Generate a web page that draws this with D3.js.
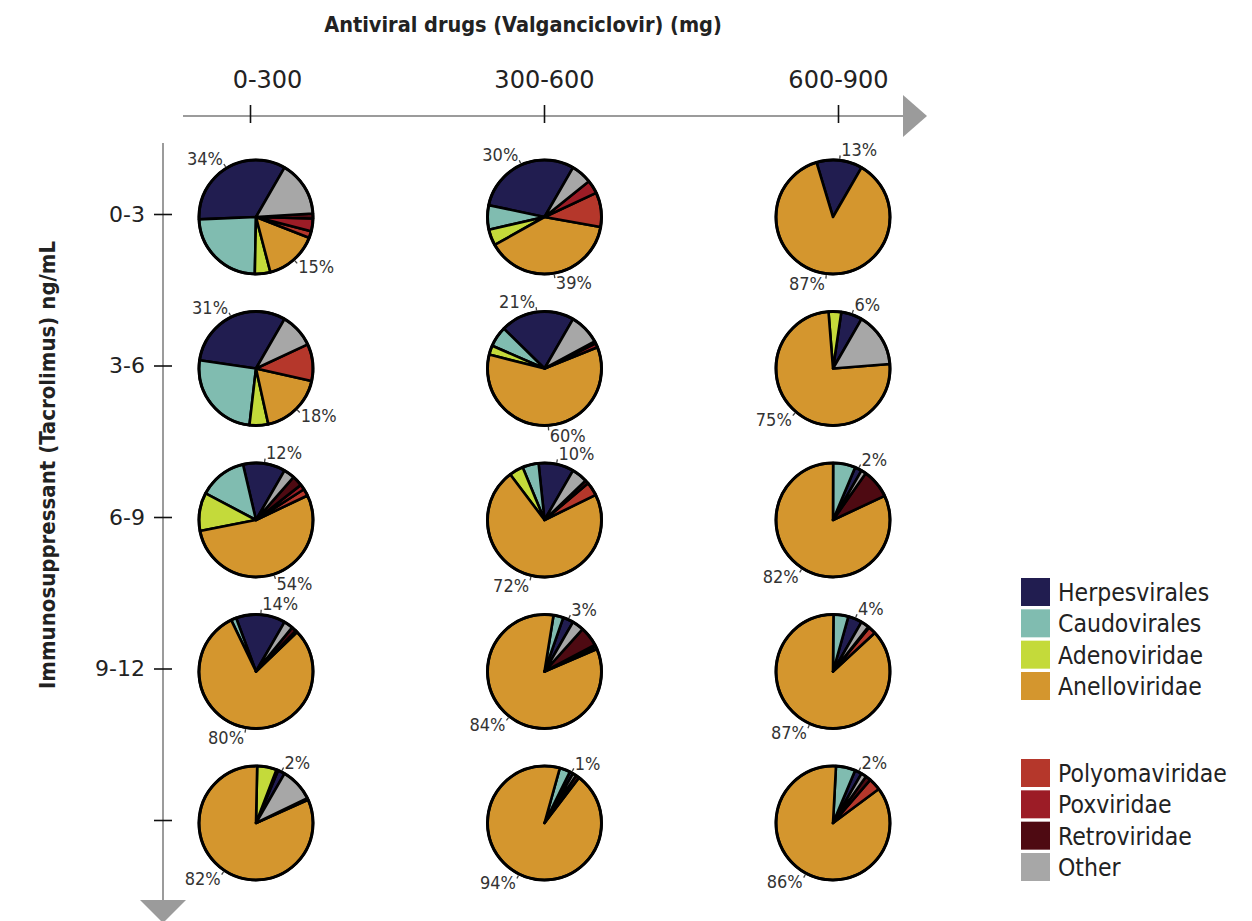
<!DOCTYPE html>
<html>
<head>
<meta charset="utf-8">
<script src="https://cdn.jsdelivr.net/npm/d3@7"></script>
<style>
  html, body { margin: 0; padding: 0; background: #fff; }
  svg { display: block; }
  .cond { font-family: "DejaVu Sans Condensed", "Liberation Sans Narrow", "Roboto", sans-serif; }
</style>
</head>
<body>
<svg id="chart" width="1252" height="921"></svg>
<script>
// Dose bands (columns) and tacrolimus levels (rows)
const doseBands = ["0-300", "300-600", "600-900"];
const levelBands = ["0-3", "3-6", "6-9", "9-12", ""];

// Virus families, in slice order (counter-clockwise) and legend order
const families = ["Herpesvirales", "Caudovirales", "Adenoviridae", "Anelloviridae",
                  "Polyomaviridae", "Poxviridae", "Retroviridae", "Other"];
const familyColors = ["#211d50", "#80bcb0", "#c4da3a", "#d4962e",
                      "#b5372b", "#9c1c26", "#4e0a12", "#a7a7a7"];

// Relative abundance (%) for each pie, row by row (level), left to right (dose)
const herpesvirales  = [34, 30, 13,  31, 21, 6,    12, 10, 2,    14, 3, 4,     2, 1, 2];
const caudovirales   = [24, 6.9, 0,  25.5, 5.8, 0, 13.6, 4.6, 6.3, 1.5, 2.8, 4.2, 0.5, 3, 5.5];
const adenoviridae   = [4.4, 4.6, 0, 5.3, 2.6, 3.6, 10.8, 4, 0,    0, 0, 0,      5.5, 0, 0];
const anelloviridae  = [15, 39, 87,  18, 60, 75,   54, 72, 82,   80, 84, 87,   82, 94, 86];
const polyomaviridae = [1.9, 9.8, 0, 10.5, 0, 0,   2, 3.9, 0,    0, 0.8, 2.2,  0, 0, 3.5];
const poxviridae     = [3.6, 3.8, 0, 0, 1.2, 0,    1.5, 0, 0,    0.5, 0.5, 0,  0, 0, 0];
const retroviridae   = [1.4, 0, 0,   0, 0.6, 0,    3, 1, 8.3,    1.4, 5.6, 0.3, 0.5, 1, 1.5];
const other          = [15.7, 5.9, 0, 9.7, 8.8, 15.4, 3.1, 4.5, 1.4, 2.6, 3.3, 2.3, 9.5, 1, 1.5];

const seriesByFamily = [herpesvirales, caudovirales, adenoviridae, anelloviridae,
                        polyomaviridae, poxviridae, retroviridae, other];
// Families whose share is printed next to the pie
const labelledFamilies = ["Herpesvirales", "Anelloviridae"];

const xTitle = "Antiviral drugs (Valganciclovir) (mg)";
const yTitle = "Immunosuppressant (Tacrolimus) ng/mL";

const svg = d3.select("#chart");
const axisGrey = "#9b9b9b";

// ---- scales ----
const xPie = d3.scalePoint().domain(doseBands).range([256, 833]);
const yPie = d3.scalePoint().domain(levelBands).range([217, 823]);
const xTick = d3.scalePoint().domain(doseBands).range([250, 838]);
const yTick = d3.scalePoint().domain(levelBands).range([214, 820]);
const color = d3.scaleOrdinal().domain(families).range(familyColors);

const radius = 57;

// ---- titles ----
svg.append("text")
  .attr("class", "cond")
  .attr("x", 523).attr("y", 32)
  .attr("text-anchor", "middle")
  .attr("font-size", 21.5).attr("font-weight", "bold").attr("fill", "#222")
  .text(xTitle);

svg.append("text")
  .attr("class", "cond")
  .attr("transform", "translate(55,465) rotate(-90)")
  .attr("text-anchor", "middle")
  .attr("font-size", 22).attr("font-weight", "bold").attr("fill", "#222")
  .text(yTitle);

// ---- top axis ----
const topAxisY = 116;
svg.append("line")
  .attr("x1", 183).attr("x2", 906).attr("y1", topAxisY).attr("y2", topAxisY)
  .attr("stroke", axisGrey).attr("stroke-width", 2);
svg.append("path")
  .attr("d", `M903,95 L927,116 L903,137 Z`)
  .attr("fill", axisGrey);

const gTop = svg.append("g")
  .attr("transform", `translate(0,${topAxisY})`)
  .call(d3.axisTop(xTick).tickSize(0).tickPadding(0));
gTop.select(".domain").remove();
gTop.selectAll(".tick line")
  .attr("y1", -11).attr("y2", 7)
  .attr("stroke", "#111").attr("stroke-width", 1.6);
gTop.selectAll(".tick text")
  .attr("font-family", "'DejaVu Sans', sans-serif")
  .attr("font-size", 24).attr("fill", "#222")
  .attr("y", -28)
  .attr("dx", (d, i) => i === 0 ? 17 : 0);

// ---- left axis ----
const leftAxisX = 163;
svg.append("line")
  .attr("x1", leftAxisX).attr("x2", leftAxisX).attr("y1", 143).attr("y2", 902)
  .attr("stroke", axisGrey).attr("stroke-width", 2);
svg.append("path")
  .attr("d", `M140,900 L163,923 L186,900 Z`)
  .attr("fill", axisGrey);

const gLeft = svg.append("g")
  .attr("transform", `translate(${leftAxisX},0)`)
  .call(d3.axisLeft(yTick).tickSize(0).tickPadding(0));
gLeft.select(".domain").remove();
gLeft.selectAll(".tick line")
  .attr("x1", -9).attr("x2", 9)
  .attr("stroke", "#111").attr("stroke-width", 1.6);
gLeft.selectAll(".tick text")
  .attr("font-family", "'DejaVu Sans', sans-serif")
  .attr("font-size", 22).attr("fill", "#222")
  .attr("x", -18);

// ---- pies ----
const pie = d3.pie()
  .sort(null)
  .value(d => d.value)
  .startAngle(Math.PI / 6)
  .endAngle(Math.PI / 6 - 2 * Math.PI);
const arc = d3.arc().innerRadius(0).outerRadius(radius);

const cells = [];
levelBands.forEach((lvl, r) => {
  doseBands.forEach((dose, c) => {
    const idx = r * doseBands.length + c;
    cells.push({
      level: lvl, dose: dose,
      slices: families.map((f, k) => ({ family: f, value: seriesByFamily[k][idx] }))
    });
  });
});

const gCells = svg.selectAll("g.cell")
  .data(cells)
  .join("g")
  .attr("class", "cell")
  .attr("transform", d => `translate(${xPie(d.dose)},${yPie(d.level)})`);

gCells.each(function (cell) {
  const g = d3.select(this);
  const arcs = pie(cell.slices);

  g.selectAll("path.slice")
    .data(arcs.filter(a => a.data.value > 0))
    .join("path")
    .attr("class", "slice")
    .attr("d", arc)
    .attr("fill", a => color(a.data.family))
    .attr("stroke", "#000")
    .attr("stroke-width", 2.6)
    .attr("stroke-linejoin", "round");

  g.append("circle")
    .attr("r", radius)
    .attr("fill", "none")
    .attr("stroke", "#000")
    .attr("stroke-width", 3);

  // percentage labels with short leader ticks
  const labelled = arcs.filter(a => labelledFamilies.includes(a.data.family));
  labelled.forEach(a => {
    const mid = (a.startAngle + a.endAngle) / 2;
    const s = Math.sin(mid), c = -Math.cos(mid);
    const p0 = [s * (radius + 1.5), c * (radius + 1.5)];
    const p1 = [s * (radius + 5), c * (radius + 5)];
    g.append("line")
      .attr("x1", p0[0]).attr("y1", p0[1]).attr("x2", p1[0]).attr("y2", p1[1])
      .attr("stroke", "#444").attr("stroke-width", 1.3);
    const capH = 12;
    g.append("text")
      .attr("class", "cond")
      .attr("x", p1[0] + (s >= 0 ? 1 : -1))
      .attr("y", p1[1] + capH / 2 + (-Math.cos(mid)) * capH / 2 * 0.9)
      .attr("text-anchor", s >= 0 ? "start" : "end")
      .attr("font-size", 18).attr("fill", "#333")
      .text(`${a.data.value}%`);
  });
});

// ---- legend ----
const legendGroups = [families.slice(0, 4), families.slice(4)];
const legY = d3.scalePoint().domain(d3.range(4)).range([592, 686]);
legendGroups.forEach((grp, gi) => {
  const g = svg.append("g").attr("transform", `translate(1021,${gi === 0 ? 0 : 181})`);
  grp.forEach((f, i) => {
    g.append("rect")
      .attr("x", 0).attr("y", legY(i) - 14)
      .attr("width", 29).attr("height", 28)
      .attr("fill", color(f));
    g.append("text")
      .attr("class", "cond")
      .attr("x", 37).attr("y", legY(i) + 9)
      .attr("font-size", 24.5).attr("fill", "#222")
      .text(f);
  });
});
</script>
</body>
</html>
